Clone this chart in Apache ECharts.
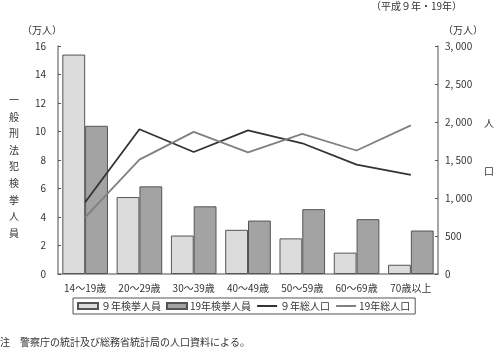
<!DOCTYPE html>
<html><head><meta charset="utf-8">
<script src="https://cdn.jsdelivr.net/npm/echarts@6/dist/echarts.min.js"></script>
<style>html,body{margin:0;padding:0;background:#fff;}#c{width:500px;height:352px;}</style>
</head><body><div id="c"></div>
<script>
const categories = ['14〜19歳','20〜29歳','30〜39歳','40〜49歳','50〜59歳','60〜69歳','70歳以上'];
const arrests9 = [15.4, 5.4, 2.7, 3.1, 2.5, 1.5, 0.65];
const arrests19 = [10.4, 6.15, 4.75, 3.75, 4.55, 3.85, 3.05];
const pop9 = [945, 1905, 1605, 1890, 1720, 1440, 1305];
const pop19 = [745, 1505, 1870, 1600, 1845, 1625, 1955];
const leftTicks = [0, 2, 4, 6, 8, 10, 12, 14, 16];
const rightTicks = [0, 500, 1000, 1500, 2000, 2500, 3000];

const FONT = '"Noto Sans CJK JP", sans-serif';
const chart = echarts.init(document.getElementById('c'));
const vert = s => s.split('').join('\n');
chart.setOption({
  animation: false,
  textStyle: {fontFamily: FONT},
  grid: {left: 58, right: 62, top: 46, bottom: 78},
  graphic: [
    {type: 'text', right: 38, top: 1, style: {text: '（平成９年・19年）', font: '10px ' + FONT, fill: '#333'}},
    {type: 'text', left: 22, top: 25, style: {text: '（万人）', font: '10px ' + FONT, fill: '#333'}},
    {type: 'text', left: 443, top: 25, style: {text: '（万人）', font: '10px ' + FONT, fill: '#333'}},
    {type: 'text', left: 9, top: 92, style: {text: vert('一般刑法犯検挙人員'), font: '10px ' + FONT, fill: '#333', lineHeight: 16.6}},
    {type: 'text', left: 484, top: 118, style: {text: '人', font: '10px ' + FONT, fill: '#333'}},
    {type: 'text', left: 484, top: 166, style: {text: '口', font: '10px ' + FONT, fill: '#333'}},
    {type: 'text', left: 0, top: 337, style: {text: '注　警察庁の統計及び総務省統計局の人口資料による。', font: '10px ' + FONT, fill: '#333'}}
  ],
  legend: {
    left: 73, top: 298,
    itemGap: 5, itemWidth: 20, itemHeight: 6,
    borderColor: '#555', borderWidth: 1, padding: [3, 5, 3, 4],
    textStyle: {fontSize: 10, color: '#333', fontFamily: FONT, padding: [0, 0, 0, -2]},
    data: [
      {name: '９年検挙人員', icon: 'rect'},
      {name: '19年検挙人員', icon: 'rect'},
      {name: '９年総人口', itemStyle: {opacity: 0}},
      {name: '19年総人口', itemStyle: {opacity: 0}}
    ]
  },
  xAxis: {
    type: 'category', data: categories,
    axisLine: {lineStyle: {color: '#888', width: 1.5}},
    axisTick: {show: false},
    axisLabel: {color: '#333', fontSize: 10, margin: 9, interval: 0, fontFamily: FONT}
  },
  yAxis: [
    {type: 'value', min: 0, max: 16, interval: 2,
     axisLine: {show: true, lineStyle: {color: '#888', width: 1.5}},
     axisTick: {show: true, inside: true, length: 3, lineStyle: {color: '#555'}},
     splitLine: {show: false},
     axisLabel: {color: '#333', fontSize: 10, margin: 12, fontFamily: FONT}},
    {type: 'value', min: 0, max: 3000, interval: 500, position: 'right',
     axisLine: {show: true, lineStyle: {color: '#888', width: 1.5}},
     axisTick: {show: true, inside: true, length: 3, lineStyle: {color: '#555'}},
     splitLine: {show: false},
     axisLabel: {color: '#333', fontSize: 10, margin: 7, align: 'left', fontFamily: FONT,
       formatter: v => v >= 1000 ? Math.floor(v/1000) + ', ' + String(v % 1000).padStart(3, '0') : String(v)}}
  ],
  series: [
    {name: '９年検挙人員', type: 'bar', data: arrests9, barGap: '0%', barCategoryGap: '16%',
     itemStyle: {color: '#dcdcdc', borderColor: '#555', borderWidth: 1}},
    {name: '19年検挙人員', type: 'bar', data: arrests19,
     itemStyle: {color: '#a3a3a3', borderColor: '#555', borderWidth: 1}},
    {name: '９年総人口', type: 'line', yAxisIndex: 1, data: pop9, symbol: 'none',
     lineStyle: {color: '#333', width: 1.8}, itemStyle: {color: '#333'}},
    {name: '19年総人口', type: 'line', yAxisIndex: 1, data: pop19, symbol: 'none',
     lineStyle: {color: '#808080', width: 1.8}, itemStyle: {color: '#808080'}}
  ]
});
</script></body></html>
